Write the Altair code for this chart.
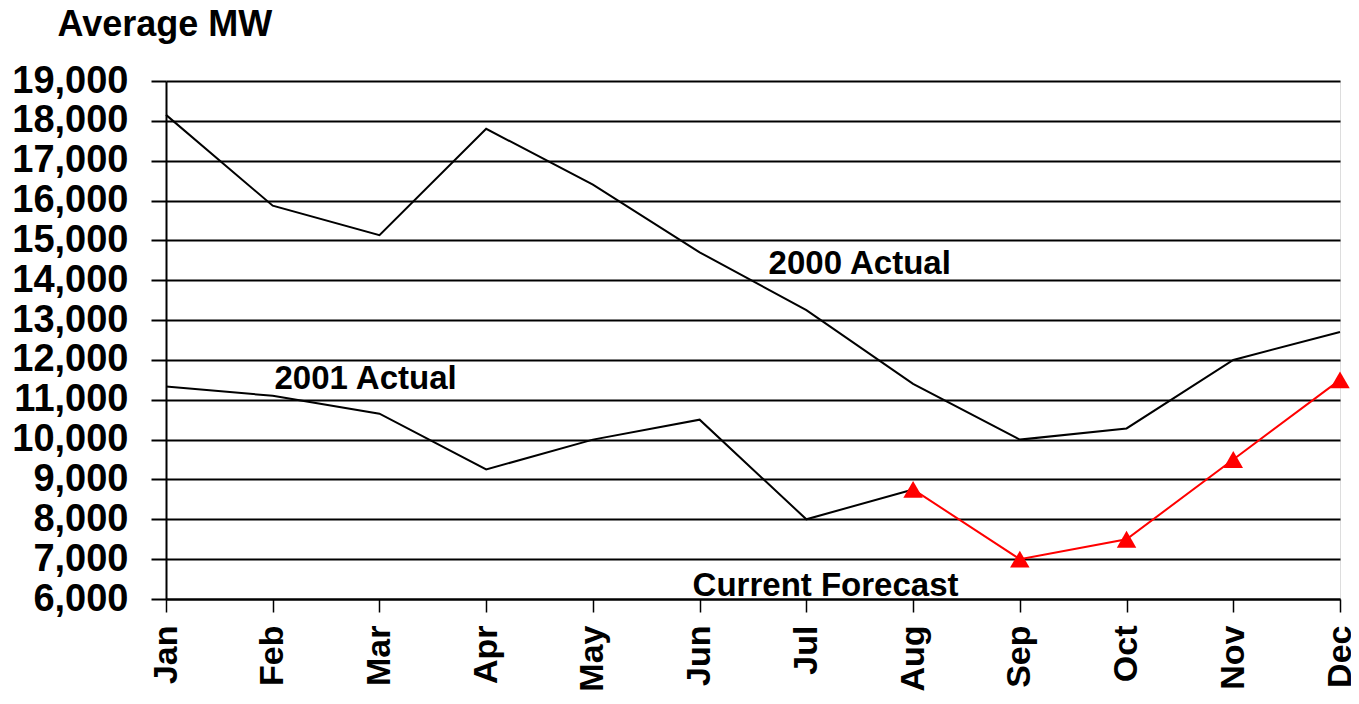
import altair as alt
import pandas as pd

months = ["Jan", "Feb", "Mar", "Apr", "May", "Jun", "Jul", "Aug", "Sep", "Oct", "Nov", "Dec"]
actual_2000 = [18150, 15870, 15130, 17800, 16400, 14700, 13250, 11400, 10000, 10280, 12000, 12700]
actual_2001 = [11330, 11100, 10650, 9250, 10000, 10500, 8000, 8750]
forecast_months = ["Aug", "Sep", "Oct", "Nov", "Dec"]
forecast = [8750, 7000, 7500, 9500, 11500]

label_text = ["2000 Actual", "2001 Actual", "Current Forecast"]
label_x = [6.5, 1.87, 6.18]
label_y = [14400, 11520, 6330]

df2000 = pd.DataFrame({"m": list(range(12)), "v": actual_2000})
df2001 = pd.DataFrame({"m": list(range(len(actual_2001))), "v": actual_2001})
dffc = pd.DataFrame({"m": [months.index(m) for m in forecast_months], "v": forecast})
dflab = pd.DataFrame({"t": label_text, "m": label_x, "v": label_y})

FONT = "Liberation Sans"
month_expr = "[" + ",".join(f"'{m}'" for m in months) + "][datum.value]"

x_enc = alt.X(
    "m:Q",
    scale=alt.Scale(domain=[0, 11], nice=False, zero=False),
    axis=alt.Axis(
        values=list(range(12)), labelExpr=month_expr, title=None,
        labelAngle=-90, labelAlign="right", labelBaseline="middle",
        labelFont=FONT, labelFontSize=34, labelFontWeight="bold", labelColor="black",
        tickSize=13, tickColor="black", tickWidth=1.5, labelPadding=13,
        domainColor="black", domainWidth=2, grid=False, labelFlush=False, labelOverlap=False,
    ),
)
y_enc = alt.Y(
    "v:Q",
    scale=alt.Scale(domain=[6000, 19000], nice=False, zero=False),
    axis=alt.Axis(
        values=list(range(6000, 19001, 1000)), format=",d",
        title="Average MW", titleAngle=0, titleAlign="left", titleBaseline="alphabetic",
        titleX=-109, titleY=-46, titleFont=FONT, titleFontSize=36, titleFontWeight="bold", titleColor="black",
        labelFont=FONT, labelFontSize=38, labelFontWeight="bold", labelColor="black",
        tickSize=15, tickColor="black", tickWidth=2, labelPadding=23,
        domainColor="black", domainWidth=2,
        grid=True, gridColor="black", gridWidth=2, gridOpacity=1,
        labelFlush=False, labelOverlap=False,
    ),
)

l2000 = alt.Chart(df2000).mark_line(color="black", strokeWidth=2).encode(x=x_enc, y=y_enc)
l2001 = alt.Chart(df2001).mark_line(color="black", strokeWidth=2).encode(x=x_enc, y=y_enc)
lfc = alt.Chart(dffc).mark_line(color="#ff0000", strokeWidth=2).encode(x=x_enc, y=y_enc)
pfc = alt.Chart(dffc).mark_point(shape="triangle-up", filled=True, color="#ff0000", size=380, opacity=1).encode(x=x_enc, y=y_enc)
txt = alt.Chart(dflab).mark_text(font=FONT, fontSize=33, fontWeight="bold", color="black", baseline="middle", align="center").encode(
    x=x_enc, y=y_enc, text="t:N"
)

chart = alt.layer(l2000, l2001, lfc, pfc, txt).properties(
    width=1174, height=518,
    autosize=alt.AutoSizeParams(type="none"),
    padding={"left": 158, "top": 73, "right": 11, "bottom": 92},
).configure_view(stroke="black", strokeWidth=2).configure(background="white")

chart.save("out.html", embed_options={"renderer": "svg", "actions": False})
